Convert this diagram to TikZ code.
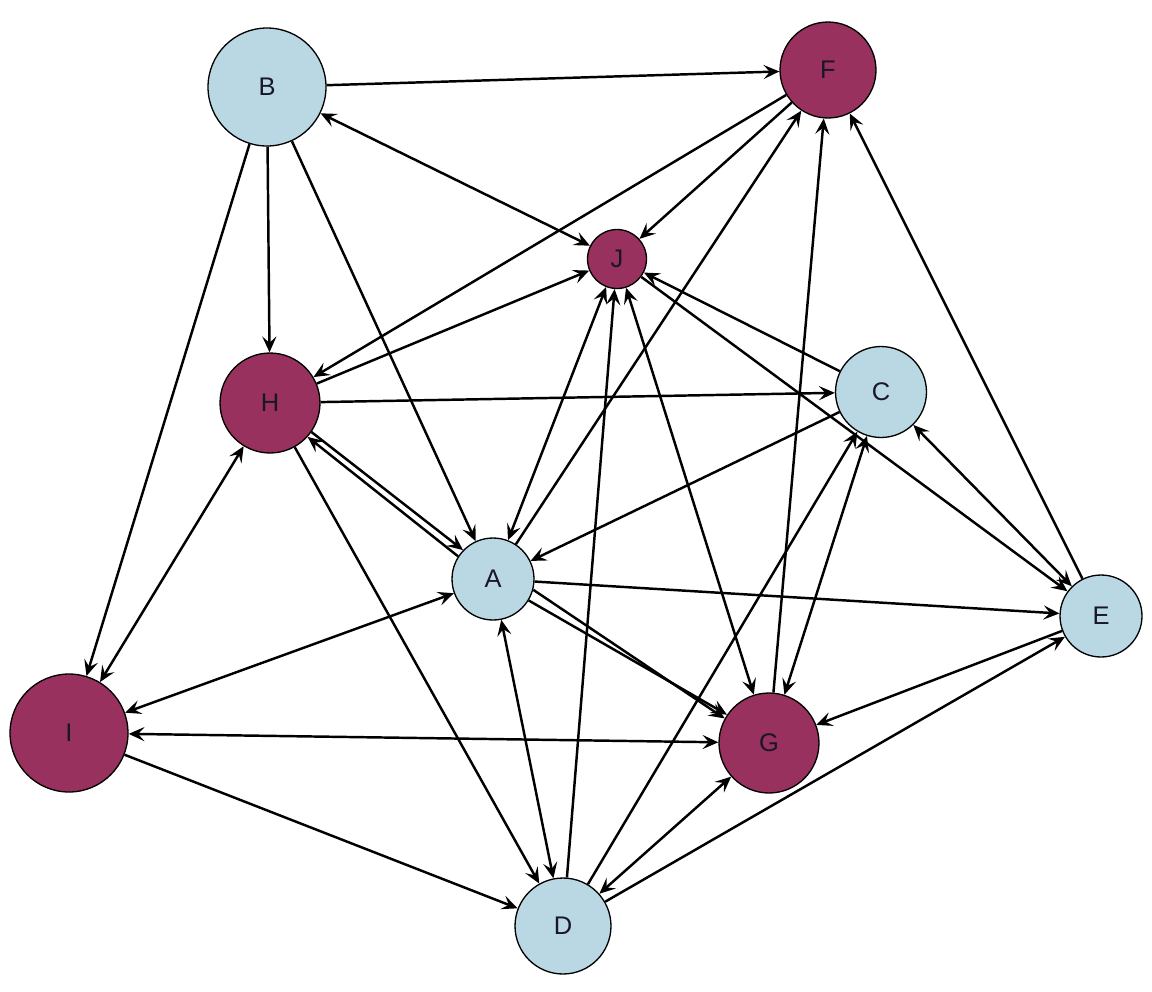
\documentclass[tikz,border=0pt]{standalone}
\usepackage{fontspec}
\setmainfont{Liberation Sans}
\usetikzlibrary{arrows.meta}
\definecolor{icebl}{RGB}{186,216,228}
\definecolor{wine}{RGB}{152,49,93}
\definecolor{ink}{RGB}{25,22,40}
\begin{document}
\begin{tikzpicture}[x=0.02cm,y=-0.02cm,>={Stealth[length=9pt,width=8pt,inset=3.6pt]},
  every node/.style={circle,draw,line width=0.75pt,inner sep=0pt,text=ink,font=\fontsize{14.5}{17}\selectfont},
  pale/.style={fill=icebl},deep/.style={fill=wine},lnk/.style={line width=1.4pt}]
  \useasboundingbox (0,0) rectangle (1152,991);
  \node[pale,minimum size=2.36cm] (b) at (267,87) {B};
  \node[deep,minimum size=1.92cm] (f) at (828,70) {F};
  \node[deep,minimum size=1.18cm] (j) at (617,259) {J};
  \node[deep,minimum size=2.0cm] (h) at (270,403) {H};
  \node[pale,minimum size=1.82cm] (c) at (881,392) {C};
  \node[pale,minimum size=1.64cm] (a) at (493,579) {A};
  \node[pale,minimum size=1.64cm] (e) at (1101,616) {E};
  \node[deep,minimum size=2.36cm] (i) at (69,733) {I};
  \node[deep,minimum size=2.0cm] (g) at (769,743) {G};
  \node[pale,minimum size=1.92cm] (d) at (563,926) {D};
  \draw[->,lnk] (b) -- (f);
  \draw[<->,lnk] (b) -- (j);
  \draw[->,lnk] (b) -- (h);
  \draw[->,lnk] (b) -- (a);
  \draw[->,lnk] (b) -- (i);
  \draw[->,lnk] (f) -- (j);
  \draw[->,lnk] (f) -- (h);
  \draw[->,lnk] (a) -- (f);
  \draw[->,lnk] (g) -- (f);
  \draw[->,lnk] (e) -- (f);
  \draw[->,lnk] (h) -- (j);
  \draw[->,lnk] (h) -- (c);
  \draw[->,lnk] (h.-35) -- (a.136);
  \draw[->,lnk] (a.147) -- (h.-42);
  \draw[<->,lnk] (h) -- (i);
  \draw[->,lnk] (h) -- (d);
  \draw[<->,lnk] (a) -- (j);
  \draw[->,lnk] (d) -- (j);
  \draw[<->,lnk] (g) -- (j);
  \draw[->,lnk] (c) -- (j);
  \draw[->,lnk] (j) -- (e);
  \draw[->,lnk] (c) -- (a);
  \draw[<->,lnk] (c) -- (e);
  \draw[<->,lnk] (c) -- (g);
  \draw[->,lnk] (d) -- (c);
  \draw[->,lnk] (a) -- (e);
  \draw[->,lnk] (a.-15) -- (g.151);
  \draw[->,lnk] (a.-31) -- (g.146);
  \draw[<->,lnk] (a) -- (i);
  \draw[<->,lnk] (a) -- (d);
  \draw[<->,lnk] (i) -- (g);
  \draw[->,lnk] (i) -- (d);
  \draw[->,lnk] (e) -- (g);
  \draw[->,lnk] (d) -- (e);
  \draw[<->,lnk] (d) -- (g);
\end{tikzpicture}
\end{document}
